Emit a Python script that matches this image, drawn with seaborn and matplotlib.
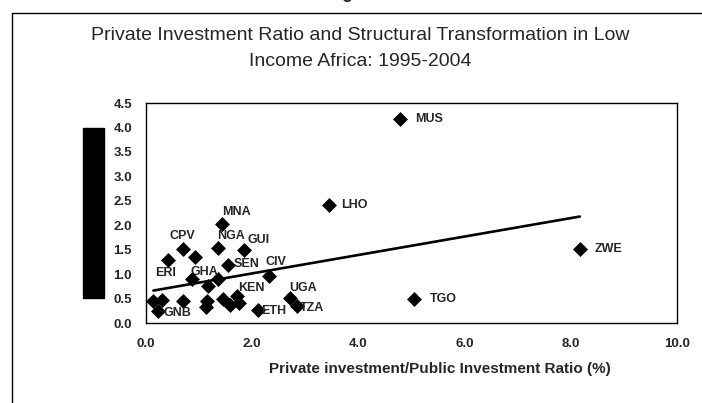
import numpy as np
import pandas as pd
import matplotlib
matplotlib.use('Agg')
import matplotlib.pyplot as plt
import seaborn as sns
from matplotlib.lines import Line2D
from matplotlib.patches import Rectangle

# 数据：私人投资/公共投资比率 与 结构转型指标
ratio = [0.14, 0.30, 0.22, 0.41, 0.70, 0.92, 0.69, 0.86, 1.17, 1.14,
         1.13, 1.35, 1.43, 1.36, 1.54, 1.85, 1.45, 1.59, 1.71, 1.75,
         2.11, 2.32, 2.71, 2.84, 3.45, 4.78, 5.05, 8.17]
transform = [0.46, 0.48, 0.25, 1.28, 1.52, 1.35, 0.46, 0.90, 0.75, 0.44,
             0.33, 0.90, 2.02, 1.54, 1.18, 1.50, 0.49, 0.36, 0.55, 0.41,
             0.27, 0.97, 0.51, 0.34, 2.41, 4.17, 0.50, 1.52]
country = ['', '', 'GNB', 'ERI', 'CPV', '', '', 'GHA', '', '',
           '', '', 'MNA', 'NGA', 'SEN', 'GUI', '', '', 'KEN', '',
           'ETH', 'CIV', 'UGA', 'TZA', 'LHO', 'MUS', 'TGO', 'ZWE']

x_ticks = [0, 2, 4, 6, 8, 10]
y_ticks = [0, 0.5, 1.0, 1.5, 2.0, 2.5, 3.0, 3.5, 4.0, 4.5]

df = pd.DataFrame({'ratio': ratio, 'transform': transform, 'country': country})

# 标签偏移（像素）
offsets = {'GNB': (20, -2), 'ERI': (-2, -13), 'CPV': (-1, 13), 'GHA': (13, 7),
           'MNA': (15, 12), 'NGA': (13, 12), 'SEN': (19, 1), 'GUI': (14, 10),
           'KEN': (15, 8), 'ETH': (16, -1), 'CIV': (7, 14), 'UGA': (13, 10),
           'TZA': (15, -2), 'LHO': (25, 0), 'MUS': (29, 0), 'TGO': (29, 0),
           'ZWE': (29, 0)}

sns.set_style('white')
plt.rcParams['font.family'] = ['Liberation Sans', 'DejaVu Sans']

W, H = 702, 403
fig = plt.figure(figsize=(W / 100, H / 100), dpi=100)
ax = fig.add_axes([146 / W, 1 - 323 / H, (677 - 146) / W, (323 - 103) / H])

sns.regplot(data=df, x='ratio', y='transform', ax=ax, scatter=False, ci=None,
            truncate=True, line_kws={'color': 'black', 'lw': 1.9})
sns.scatterplot(data=df, x='ratio', y='transform', ax=ax, marker='D', s=58,
                color='black', edgecolor='black', linewidth=0, zorder=3)

for _, r in df.iterrows():
    if r['country']:
        dx, dy = offsets[r['country']]
        ax.annotate(r['country'], (r['ratio'], r['transform']), xytext=(dx, dy),
                    textcoords='offset pixels', ha='center', va='center',
                    fontsize=9, fontweight='bold')

ax.set_xlim(0, 10)
ax.set_ylim(0, 4.5)
ax.set_xticks(x_ticks)
ax.set_xticklabels([f'{v:.1f}' for v in x_ticks])
ax.set_yticks(y_ticks)
ax.set_yticklabels([f'{v:.1f}' for v in y_ticks])
ax.tick_params(axis='both', direction='out', length=3, width=0.8, color='black',
               labelsize=9.5, pad=7)
for lab in ax.get_xticklabels() + ax.get_yticklabels():
    lab.set_fontweight('bold')
ax.tick_params(axis='x', pad=8)
ax.set_xlabel('Private investment/Public Investment Ratio (%)', fontsize=11,
              fontweight='bold')
ax.xaxis.set_label_coords((440 - 146) / (677 - 146), -(369 - 323) / (323 - 103))
ax.xaxis.label.set_va('center')
ax.set_ylabel('')
for sp in ax.spines.values():
    sp.set_color('black')
    sp.set_linewidth(1.0)

fig.text(360 / W, 1 - 35 / H, 'Private Investment Ratio and Structural Transformation in Low',
         ha='center', va='center', fontsize=14)
fig.text(360 / W, 1 - 61 / H, 'Income Africa: 1995-2004', ha='center', va='center',
         fontsize=14)

# 外框与遮挡的纵轴标题
fig.add_artist(Line2D([12 / W, 1], [1 - 13 / H, 1 - 13 / H], color='black', lw=1.0,
                      transform=fig.transFigure))
fig.add_artist(Line2D([12 / W, 12 / W], [0, 1 - 13 / H], color='black', lw=1.0,
                      transform=fig.transFigure))
fig.add_artist(Rectangle((83 / W, 1 - 298 / H), 21 / W, 170 / H, color='black',
                         transform=fig.transFigure))
fig.text(347 / W, 1 + 2 / H, 'g', ha='center', va='baseline', fontsize=13,
         fontweight='bold')

plt.savefig('out.png', dpi=100)
